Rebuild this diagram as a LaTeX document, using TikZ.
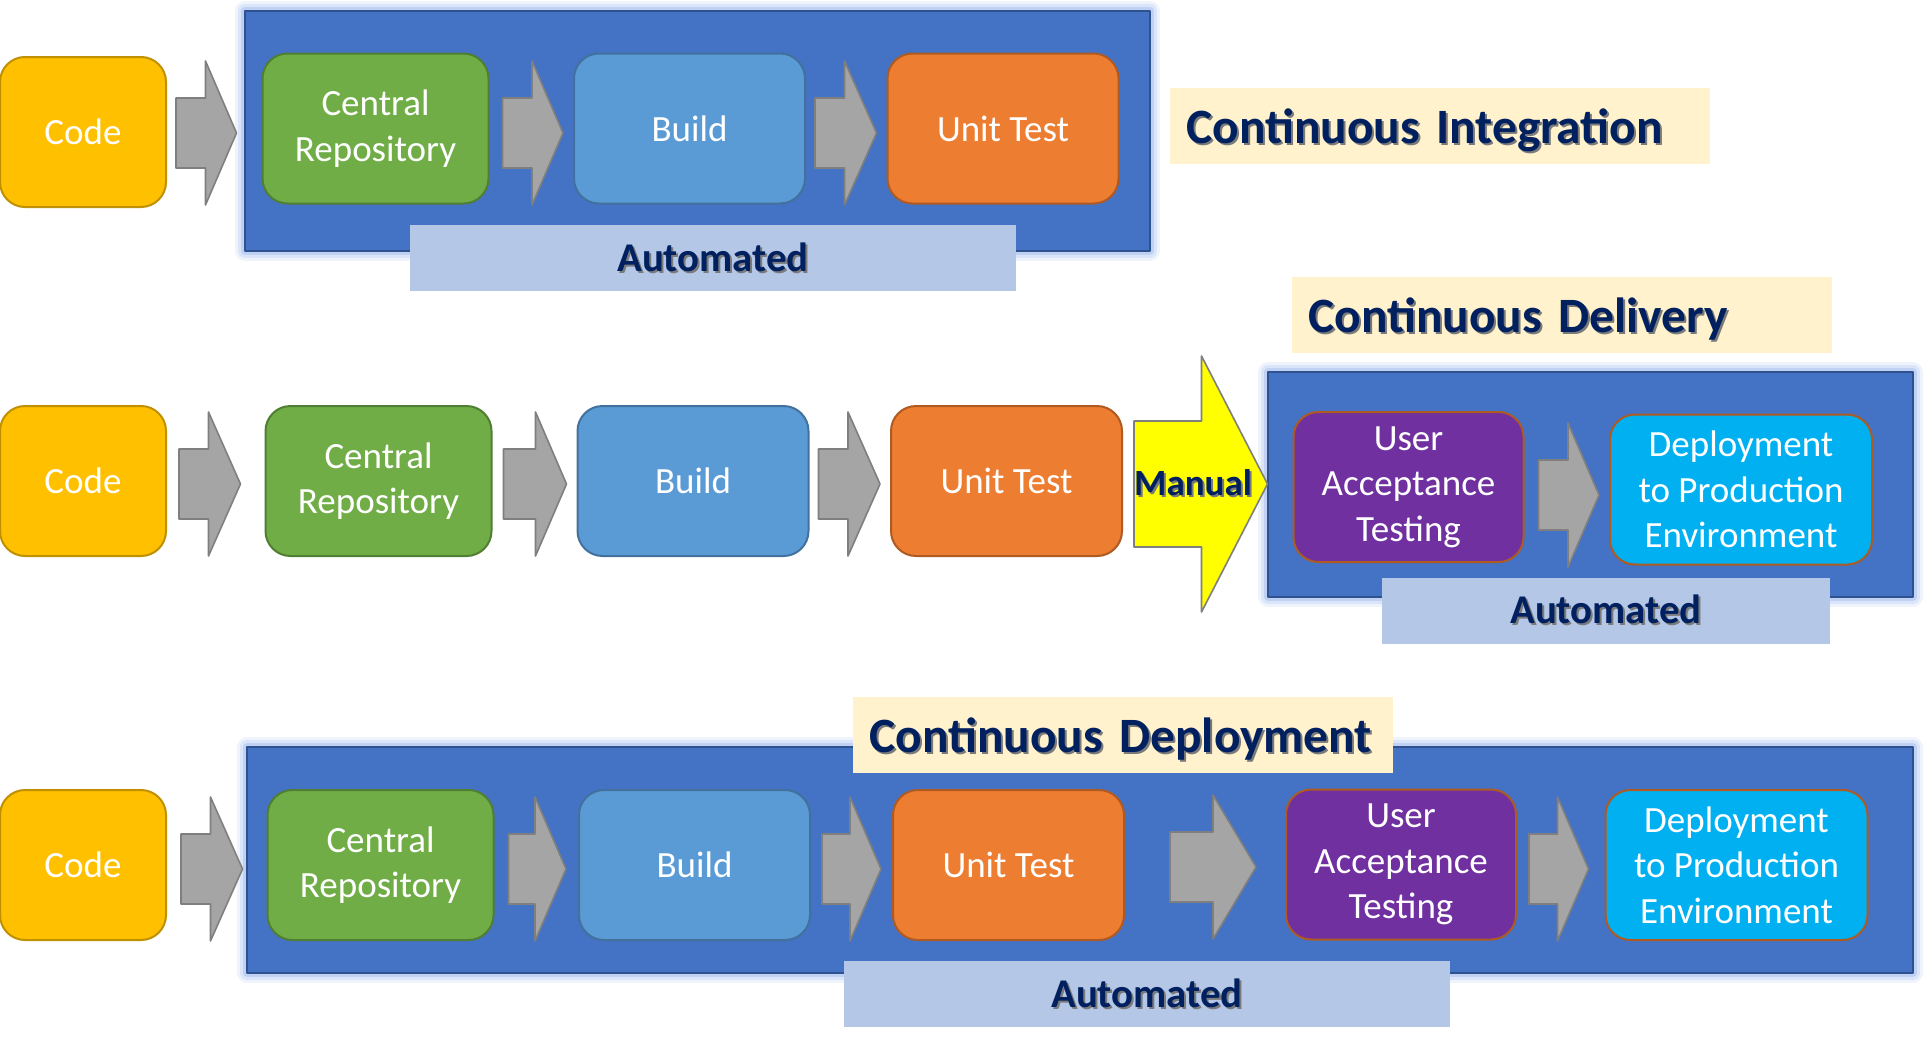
\documentclass[tikz,border=0pt]{standalone}
\usepackage{fontspec}
\setmainfont{Carlito}
\usetikzlibrary{calc}

\definecolor{codefill}{HTML}{FFC000}
\definecolor{codeedge}{HTML}{BF9000}
\definecolor{repofill}{HTML}{70AD47}
\definecolor{repoedge}{HTML}{507E32}
\definecolor{buildfill}{HTML}{5B9BD5}
\definecolor{buildedge}{HTML}{41719C}
\definecolor{testfill}{HTML}{ED7D31}
\definecolor{testedge}{HTML}{AE5A21}
\definecolor{uatfill}{HTML}{7030A0}
\definecolor{depfill}{HTML}{00B0F0}
\definecolor{panelfill}{HTML}{4472C4}
\definecolor{paneledge}{HTML}{2F528F}
\definecolor{glowblue}{HTML}{7FA3E8}
\definecolor{bandfill}{HTML}{B4C7E7}
\definecolor{headfill}{HTML}{FFF2CC}
\definecolor{navy}{HTML}{002060}
\definecolor{arrowfill}{HTML}{A5A5A5}
\definecolor{arrowedge}{HTML}{7F7F7F}
\definecolor{manualfill}{HTML}{FFFF00}
\definecolor{textshadow}{HTML}{7A7A7A}

\newcommand{\shadowed}[1]{\rlap{\kern1pt\raisebox{-1.1pt}{\color{textshadow}#1}}#1}

% block arrow: tail point, tip point, head length, body half height, head half height
\newcommand{\blockarrow}[6][garrow]{%
  \draw[#1] let \p1=(#2), \p2=(#3) in
    (\x1,\y1+#5) -- (\x2-#4,\y1+#5) -- (\x2-#4,\y1+#6) -- (\x2,\y1)
    -- (\x2-#4,\y1-#6) -- (\x2-#4,\y1-#5) -- (\x1,\y1-#5) -- cycle;}
\newcommand{\stagearrow}[3]{\blockarrow{#1}{#2}{#3}{17.5pt}{36pt}}

\begin{document}
\begin{tikzpicture}[x=0.5pt,y=-0.5pt,line cap=round,line join=round,
    stage/.style={rectangle,rounded corners=12.5pt,inner sep=0pt,minimum height=75pt,
      line width=1pt,text=white,align=center,font=\fontsize{18.5}{22.7}\selectfont},
    codebox/.style={stage,fill=codefill,draw=codeedge,minimum width=83pt},
    repobox/.style={stage,fill=repofill,draw=repoedge,minimum width=113pt},
    buildbox/.style={stage,fill=buildfill,draw=buildedge,minimum width=115.5pt},
    testbox/.style={stage,fill=testfill,draw=testedge,minimum width=115.5pt},
    uatbox/.style={stage,fill=uatfill,draw=testedge,minimum width=115pt},
    deploybox/.style={stage,fill=depfill,draw=testedge,minimum width=131pt},
    panel/.style={fill=panelfill,draw=paneledge,line width=1pt,
      preaction={draw=glowblue,line width=10pt,draw opacity=.12},
      preaction={draw=glowblue,line width=7pt,draw opacity=.18},
      preaction={draw=glowblue,line width=4pt,draw opacity=.3}},
    band/.style={fill=bandfill,inner sep=0pt,minimum height=33pt,text=navy,
      font=\fontsize{20.4}{24}\selectfont\bfseries},
    heading/.style={fill=headfill,anchor=west,inner xsep=8pt,inner ysep=0pt,
      minimum height=38pt,text width=254pt,text depth=0pt,align=left,text=navy,
      font=\fontsize{24.7}{30}\selectfont\bfseries},
    garrow/.style={fill=arrowfill,draw=arrowedge,line width=0.8pt},
    manualarrow/.style={fill=manualfill,draw=arrowedge,line width=0.8pt}]

    \useasboundingbox (0,0) rectangle (1925,1049);

    % automated areas
    \draw[panel] (245,11) rectangle (1150,251);
    \draw[panel] (1268,372) rectangle (1913,597);
    \draw[panel] (247,747) rectangle (1913,973);

    \node[band,minimum width=303pt] (auto1) at (713,258) {\shadowed{Automated}};
    \node[band,minimum width=224pt] (auto2) at (1606,610.5) {\shadowed{Automated}};
    \node[band,minimum width=303pt] (auto3) at (1147,994) {\shadowed{Automated}};

    \node[heading] (ci) at (1170,126) {\shadowed{Continuous Integration}};
    \node[heading] (cd) at (1292,315) {\shadowed{Continuous Delivery}};
    \node[heading] (cdep) at (853,735) {\shadowed{Continuous Deployment}};

    % row 1
    \node[codebox] (code1) at (83,132) {Code};
    \node[repobox] (repo1) at (375.5,128.5) {Central\\Repository};
    \node[buildbox] (build1) at (689.5,128.5) {Build};
    \node[testbox] (test1) at (1003,128.5) {Unit Test};

    \stagearrow{$(code1.east)+(9,1)$}{$(repo1.west)+(-25,0)$}{15.5pt}
    \stagearrow{$(repo1.east)+(13,4.5)$}{$(build1.west)+(-10,0)$}{15.5pt}
    \stagearrow{$(build1.east)+(9,4.5)$}{$(test1.west)+(-10,0)$}{16pt}

    % row 2
    \node[codebox] (code2) at (83,481) {Code};
    \node[repobox] (repo2) at (378.5,481) {Central\\Repository};
    \node[buildbox] (build2) at (693,481) {Build};
    \node[testbox] (test2) at (1006.5,481) {Unit Test};
    \node[uatbox] (uat2) at (1408.5,487) {User\\Acceptance\\Testing};
    \node[deploybox] (dep2) at (1741,489.5) {Deployment\\to Production\\Environment};

    \stagearrow{$(code2.east)+(12,3)$}{$(repo2.west)+(-24,0)$}{16pt}
    \stagearrow{$(repo2.east)+(11,3)$}{$(build2.west)+(-10,0)$}{15.5pt}
    \stagearrow{$(build2.east)+(9,3)$}{$(test2.west)+(-10,0)$}{16pt}
    \blockarrow[manualarrow]{$(test2.east)+(11,3)$}{$(uat2.west)+(-25,0)$}{33pt}{31.5pt}{64pt}
    \node[text=navy,inner sep=0pt,font=\fontsize{18.5}{22}\selectfont\bfseries]
      (manual) at ($(test2.east)+(70,3)$) {\shadowed{Manual}};
    \stagearrow{$(uat2.east)+(14,8)$}{$(dep2.west)+(-10,0)$}{15.5pt}

    % row 3
    \node[codebox] (code3) at (83,865) {Code};
    \node[repobox] (repo3) at (380.5,865) {Central\\Repository};
    \node[buildbox] (build3) at (694.5,865) {Build};
    \node[testbox] (test3) at (1008.5,865) {Unit Test};
    \node[uatbox] (uat3) at (1401,864.5) {User\\Acceptance\\Testing};
    \node[deploybox] (dep3) at (1736.5,865) {Deployment\\to Production\\Environment};

    \stagearrow{$(code3.east)+(14,4)$}{$(repo3.west)+(-24,0)$}{16pt}
    \stagearrow{$(repo3.east)+(14,4)$}{$(build3.west)+(-12,0)$}{15.5pt}
    \stagearrow{$(build3.east)+(11,4)$}{$(test3.west)+(-11,0)$}{15.5pt}
    \stagearrow{$(test3.east)+(45,2)$}{$(uat3.west)+(-29,0)$}{21.5pt}
    \stagearrow{$(uat3.east)+(12,4.5)$}{$(dep3.west)+(-16,0)$}{15.5pt}
\end{tikzpicture}
\end{document}
